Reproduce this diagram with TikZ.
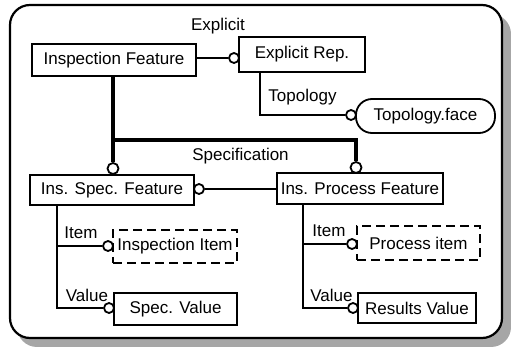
\documentclass[tikz,border=0pt]{standalone}
\usepackage{fontspec}
\setmainfont{Liberation Sans}
\begin{document}
\begin{tikzpicture}[x=1pt,y=-1pt,
  box/.style={draw,line width=1.8pt,inner sep=0pt,font=\fontsize{17}{20}\selectfont},
  dbox/.style={box,dashed,dash pattern=on 9pt off 5pt},
  lbl/.style={inner sep=0pt,font=\fontsize{17}{20}\selectfont},
  conn/.style={line width=1.8pt},
  heavyconn/.style={line width=3.2pt},
  ring/.style={draw,line width=1.8pt,fill=white,circle,inner sep=0pt,minimum size=10pt}
]
\useasboundingbox (0,0) rectangle (511,347);
\fill[white] (0,0) rectangle (511,347);
% frame with shadow
\fill[black!35,rounded corners=20pt] (17,14) rectangle (511,347);
\draw[line width=2.2pt,fill=white,rounded corners=20pt] (10,5) rectangle (502,338);

% nodes
\node[box,minimum width=164pt,minimum height=32pt] (IF) at (114,60) {Inspection Feature};
\node[box,minimum width=126pt,minimum height=35pt] (ER) at (302,54.5) {Explicit Rep.};
\node[box,rounded corners=16pt,minimum width=139pt,minimum height=34pt] (TF) at (425.5,116) {Topology.face};
\node[box,minimum width=164pt,minimum height=30pt] (ISF) at (112,190) {Ins. Spec. Feature};
\node[box,minimum width=166pt,minimum height=31pt] (IPF) at (360,188.5) {Ins. Process Feature};
\node[dbox,minimum width=124pt,minimum height=33pt] (II) at (175,246.5) {Inspection Item};
\node[box,minimum width=123pt,minimum height=32pt] (SV) at (175.5,309) {Spec. Value};
\node[dbox,minimum width=123pt,minimum height=34pt] (PI) at (418.5,243) {Process item};
\node[box,minimum width=118pt,minimum height=30pt] (RV) at (417,308) {Results Value};

% labels
\node[lbl] (lExp) at (218,26.5) {Explicit};
\node[lbl] (lTop) at (302.5,97) {Topology};
\node[lbl] (lSpec) at (240.5,156) {Specification};
\node[lbl] (lI1) at (81,233) {Item};
\node[lbl] (lV1) at (87,295) {Value};
\node[lbl] (lI2) at (329,231) {Item};
\node[lbl] (lV2) at (331.5,295) {Value};

% rings
\node[ring] (r1) at (234,58) {};
\node[ring] (r2) at (351,115) {};
\node[ring,minimum size=11pt] (r3) at (113,168.5) {};
\node[ring,minimum size=11pt] (r4) at (356,167.5) {};
\node[ring] (r5) at (199,189) {};
\node[ring] (r6) at (108,246) {};
\node[ring] (r7) at (109,308) {};
\node[ring] (r8) at (352,244) {};
\node[ring] (r9) at (353,308) {};

% connectors
\draw[conn] (IF.east |- r1) -- (r1);
\draw[conn] (ER.south -| 260,0) |- (r2);
\draw[conn] (r5) -- (IPF.west |- r5);
\draw[heavyconn] (IF.south -| r3) -- (r3);
\draw[heavyconn] (113,140) -| (r4);
\draw[conn] (ISF.south -| 57,0) |- (r7);
\draw[conn] (57,246) -- (r6);
\draw[conn] (IPF.south -| 303,0) |- (r9);
\draw[conn] (303,244) -- (r8);
\end{tikzpicture}
\end{document}
